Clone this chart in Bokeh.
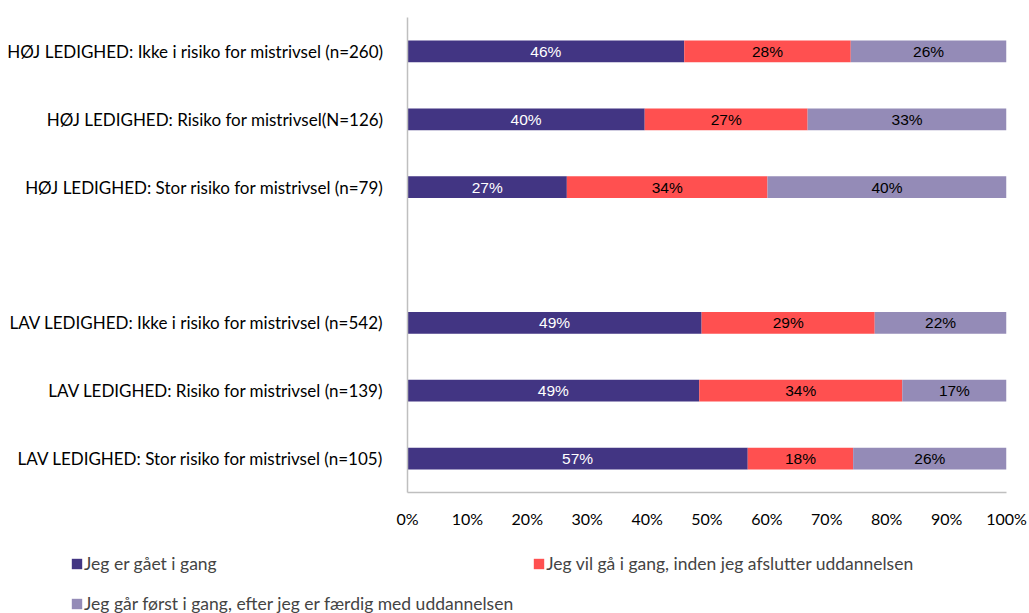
from bokeh.plotting import figure
from bokeh.layouts import column
from bokeh.models import FactorRange, Range1d, ColumnDataSource, Legend, LegendItem, NumeralTickFormatter, FixedTicker
from bokeh.embed import file_html
from bokeh.resources import INLINE
from bokeh.core.properties import value

categories = [
    "HØJ LEDIGHED: Ikke i risiko for mistrivsel (n=260)",
    "HØJ LEDIGHED: Risiko for mistrivsel(N=126)",
    "HØJ LEDIGHED: Stor risiko for mistrivsel (n=79)",
    " ",
    "LAV LEDIGHED: Ikke i risiko for mistrivsel (n=542)",
    "LAV LEDIGHED: Risiko for mistrivsel (n=139)",
    "LAV LEDIGHED: Stor risiko for mistrivsel (n=105)",
]
series_names = [
    "Jeg er gået i gang",
    "Jeg vil gå i gang, inden jeg afslutter uddannelsen",
    "Jeg går først i gang, efter jeg er færdig med uddannelsen",
]
started = [46.2, 39.6, 26.6, 0, 49.1, 48.7, 56.8]
before_end = [27.8, 27.2, 33.5, 0, 28.9, 33.9, 17.6]
after_end = [26.0, 33.2, 39.9, 0, 22.0, 17.4, 25.6]
colors = ["#423583", "#FF5050", "#948BB7"]
label_colors = ["white", "black", "black"]
keys = ["s0", "s1", "s2"]

src = ColumnDataSource(dict(cat=categories, s0=[v / 100 for v in started],
                            s1=[v / 100 for v in before_end], s2=[v / 100 for v in after_end]))

p = figure(width=1029, height=535, output_backend="svg", toolbar_location=None,
           y_range=FactorRange(*reversed(categories)), x_range=Range1d(0, 1),
           min_border_left=407, min_border_right=23, min_border_top=17, min_border_bottom=43)
p.outline_line_color = None
p.grid.grid_line_color = None
p.frame_align = False

renderers = p.hbar_stack(keys, y="cat", height=0.32, color=colors, line_color=None, source=src)

all_vals = [started, before_end, after_end]
for i in range(3):
    xs, ys, txt = [], [], []
    for j, c in enumerate(categories):
        v = all_vals[i][j]
        if v <= 0:
            continue
        left = sum(all_vals[k][j] for k in range(i))
        xs.append((left + v / 2) / 100)
        ys.append(c)
        txt.append(f"{v:.0f}%")
    ls = ColumnDataSource(dict(x=xs, y=ys, t=txt))
    p.text(x="x", y="y", text="t", source=ls, text_align="center", text_baseline="middle",
           text_color=label_colors[i], text_font=value("Liberation Sans"), text_font_size="15.5px")

p.xaxis.ticker = FixedTicker(ticks=[i / 10 for i in range(11)])
p.xaxis.formatter = NumeralTickFormatter(format="0%")
for ax in (p.xaxis, p.yaxis):
    ax.axis_line_color = "#BFBFBF"
    ax.axis_line_width = 1.5
    ax.major_tick_line_color = None
    ax.minor_tick_line_color = None
    ax.major_label_text_font = "Lato"
    ax.major_label_text_color = "black"
p.xaxis.major_label_text_font_size = "16px"
p.yaxis.major_label_text_font_size = "17px"
p.xaxis.major_label_standoff = 10
p.yaxis.major_label_standoff = 18

# legend figure below the chart
lf = figure(width=1029, height=79, output_backend="svg", toolbar_location=None,
            x_range=Range1d(0, 1), y_range=Range1d(0, 1),
            min_border_left=0, min_border_right=0, min_border_top=0, min_border_bottom=0)
lf.frame_align = False
lf.axis.visible = False
lf.grid.grid_line_color = None
lf.outline_line_color = None
swatch = ColumnDataSource(dict(l=[-5], r=[-4], b=[-5], t=[-4]))
leg_rs = [lf.quad(left="l", right="r", bottom="b", top="t", source=swatch,
                  fill_color=colors[i], line_color=None) for i in range(3)]
order = [0, 2, 1]  # legend fills column-first: row 1 = items 0 and 1, row 2 = item 2
legend = Legend(items=[LegendItem(label=series_names[i], renderers=[leg_rs[i]]) for i in order],
                location=(70, 0), ncols=2, glyph_width=13, glyph_height=13,
                label_standoff=1, label_text_font="Lato", label_text_font_size="17.5px",
                spacing=19, padding=0, margin=0, border_line_color=None, background_fill_alpha=0,
                label_height=20)
lf.add_layout(legend, "center")

layout = column(p, lf, spacing=0)
open("out.html", "w").write(file_html(layout, INLINE))
